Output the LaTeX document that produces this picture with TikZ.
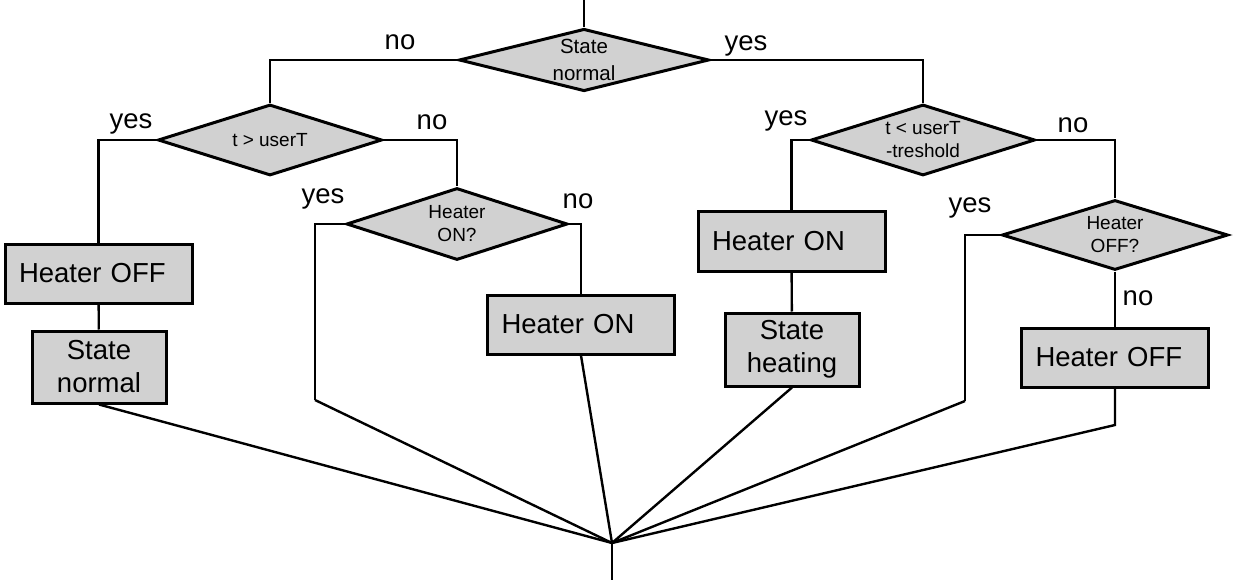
\documentclass[tikz,border=0pt]{standalone}
\usepackage{fontspec}
\setmainfont{Liberation Sans}
\usetikzlibrary{shapes.geometric}
\definecolor{boxgray}{RGB}{209,209,209}
\newcommand\bigtxt{\fontsize{27.5}{33}\selectfont}
\newcommand\smalltxt{\fontsize{19}{23}\selectfont}

\begin{document}
\begin{tikzpicture}[x=1pt, y=-1pt, line width=2.4pt,
	    decision/.style={diamond, draw, fill=boxgray, line width=3pt, inner sep=0pt, aspect=3, font=\smalltxt, align=center},
	    act/.style={rectangle, draw, fill=boxgray, line width=3pt, inner sep=0pt, minimum height=59pt, font=\bigtxt},
	    wide/.style={act, text width=159pt, inner xsep=14pt, align=left},
	    narrow/.style={act, minimum width=134pt, minimum height=73pt, align=center},
	    answer/.style={font=\bigtxt, anchor=base}]
		\fill[white] (0,0) rectangle (1239,588);
		\useasboundingbox (0,0) rectangle (1239,588);

		% decisions
		\node[decision, minimum width=250pt, minimum height=57pt, font=\fontsize{20.5}{27}\selectfont] (sn) at (584,60) {State\\normal};
		\node[decision, minimum width=224pt, minimum height=71pt] (gt) at (270,140) {t > userT};
		\node[decision, minimum width=221pt, minimum height=72pt] (hon) at (457,224) {Heater\\ON?};
		\node[decision, minimum width=224pt, minimum height=71pt] (lt) at (923,140) {t < userT\\-treshold};
		\node[decision, minimum width=226pt, minimum height=70pt] (hoff) at (1115,235) {Heater\\OFF?};

		% actions
		\node[wide] (offA) at (98.5,273.5) {Heater OFF};
		\node[narrow, minimum height=72pt] (normA) at (99,367) {State\\normal};
		\node[wide] (onA) at (581,324.5) {Heater ON};
		\node[wide] (onB) at (791.5,241.5) {Heater ON};
		\node[narrow] (heatB) at (792,349.5) {State\\heating};
		\node[wide] (offB) at (1115,357.5) {Heater OFF};

		% free ends
		\coordinate (start) at (584,0);
		\coordinate (hub) at (612,543);
		\coordinate (stop) at (612,580);
		\coordinate (yesL) at (315,400);
		\coordinate (yesR) at (965,401);
		\coordinate (kneeR) at (1115,425);

		\draw (start) -- (sn.north);
		\draw (sn.west) -| (gt.north);
		\draw (sn.east) -| (lt.north);
		\draw (gt.west) -| (offA.north);
		\draw (gt.east) -| (hon.north);
		\draw (hon.west) -| (yesL);
		\draw (hon.east) -| (onA.north);
		\draw (offA) -- (normA);
		\draw (lt.west) -| (onB.north);
		\draw (lt.east) -| (hoff.north);
		\draw (onB) -- (heatB);
		\draw (hoff.west) -| (yesR);
		\draw (hoff.south) -- (offB.north);

		% joining lines
		\draw (normA.south) -- (hub);
		\draw (yesL) -- (hub);
		\draw (onA.south) -- (hub);
		\draw (heatB.south) -- (hub);
		\draw (yesR) -- (hub);
		\draw (offB.south) -- (kneeR) -- (hub);
		\draw (hub) -- (stop);

		% answers
		\node[answer] (a1) at (400,50) {no};
		\node[answer] (a2) at (746,51) {yes};
		\node[answer] (a3) at (131,129) {yes};
		\node[answer] (a4) at (432,130) {no};
		\node[answer] (a5) at (323,204) {yes};
		\node[answer] (a6) at (578,208) {no};
		\node[answer] (a7) at (786,126) {yes};
		\node[answer] (a8) at (1073,133) {no};
		\node[answer] (a9) at (970,212) {yes};
		\node[answer] (a10) at (1138,305) {no};
\end{tikzpicture}
\end{document}
